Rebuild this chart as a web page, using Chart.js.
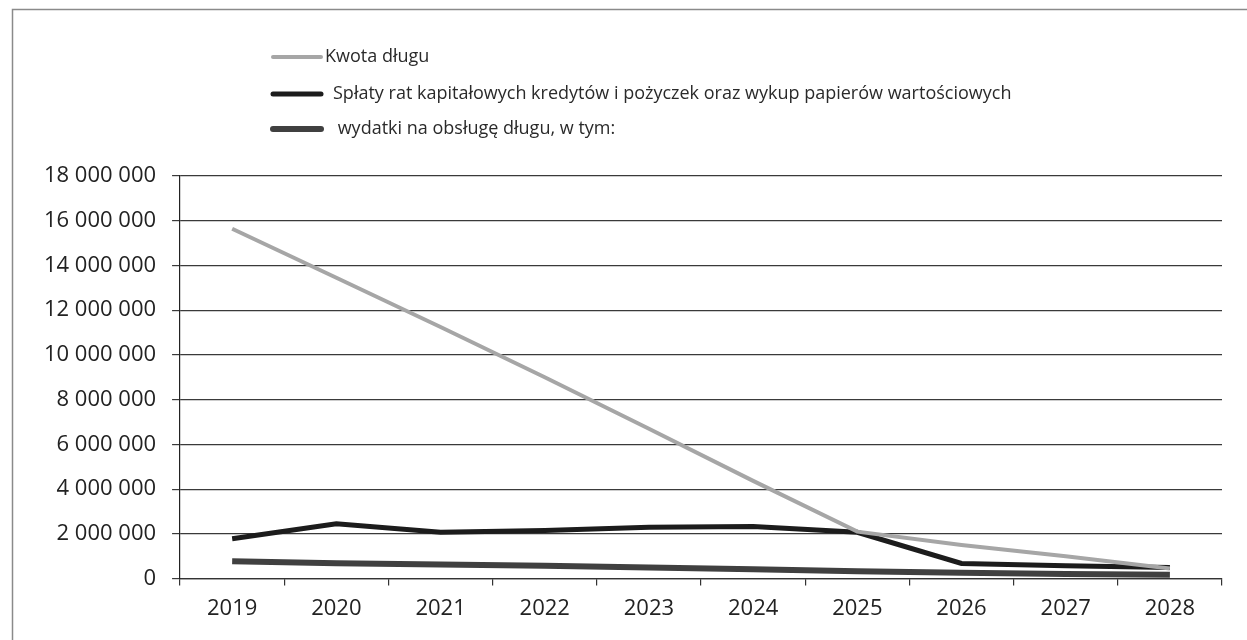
<!DOCTYPE html>
<html>
  <head>
    <title>Kwota długu</title>
    <style>
      body { margin: 0; background: #fff; }
      #wrap { width: 1247px; height: 640px; }
    </style>
  </head>
  <script src="https://cdn.jsdelivr.net/npm/chart.js@4/dist/chart.umd.min.js"></script>
  <body>
    <div id="wrap"><canvas id="myChart" width="1247" height="640"></canvas></div>

    <script>
      const years = ["2019", "2020", "2021", "2022", "2023", "2024", "2025", "2026", "2027", "2028"]
      const kwotaDlugu = [15640000, 13450000, 11250000, 9000000, 6700000, 4370000, 2100000, 1500000, 1000000, 450000]
      const splatyRat = [1780000, 2450000, 2070000, 2150000, 2300000, 2330000, 2070000, 680000, 580000, 500000]
      const wydatkiObsluga = [780000, 690000, 630000, 570000, 500000, 420000, 330000, 260000, 210000, 170000]
      const seriesNames = [
        "Kwota długu",
        "Spłaty rat kapitałowych kredytów i pożyczek oraz wykup papierów wartościowych",
        "wydatki na obsługę długu, w tym:"
      ]
      const yTicks = [0, 2000000, 4000000, 6000000, 8000000, 10000000, 12000000, 14000000, 16000000, 18000000]

      const fontName = "'Open Sans', sans-serif"

      function fmt(v){
        return v.toString().replace(/\B(?=(\d{3})+(?!\d))/g, " ")
      }

      // frame around the whole chart + stacked legend (top left)
      const framePlugin = {
        id: "frame",
        beforeDraw(chart){
          const ctx = chart.ctx
          ctx.save()
          ctx.fillStyle = "#fff"
          ctx.fillRect(0, 0, chart.width, chart.height)
          ctx.strokeStyle = "#8a8a8a"
          ctx.lineWidth = 1.5
          ctx.beginPath()
          ctx.moveTo(12.5, chart.height)
          ctx.lineTo(12.5, 9.5)
          ctx.lineTo(chart.width, 9.5)
          ctx.stroke()
          ctx.restore()
        },
        afterDraw(chart){
          const ctx = chart.ctx
          const rows = [57, 94, 129]
          const textX = [325, 333, 333]
          ctx.save()
          ctx.font = "18px " + fontName
          ctx.textBaseline = "middle"
          chart.data.datasets.forEach((ds, i) => {
            ctx.strokeStyle = ds.borderColor
            ctx.lineWidth = ds.borderWidth
            ctx.lineCap = "round"
            ctx.beginPath()
            ctx.moveTo(273, rows[i])
            ctx.lineTo(321, rows[i])
            ctx.stroke()
            ctx.fillStyle = "#2a2a2a"
            ctx.fillText((i === 2 ? " " : "") + ds.label, textX[i], rows[i])
          })
          ctx.restore()
        }
      }

      new Chart("myChart", {
        type: "line",
        data: {
          labels: years,
          datasets: [
            { label: seriesNames[0], data: kwotaDlugu, borderColor: "#a6a6a6", borderWidth: 4, pointRadius: 0, tension: 0 },
            { label: seriesNames[1], data: splatyRat, borderColor: "#1c1c1c", borderWidth: 5, pointRadius: 0, tension: 0 },
            { label: seriesNames[2], data: wydatkiObsluga, borderColor: "#404040", borderWidth: 6, pointRadius: 0, tension: 0 }
          ]
        },
        plugins: [framePlugin],
        options: {
          responsive: false,
          animation: false,
          layout: { padding: { left: 28, right: 25, top: 176, bottom: 8 } },
          plugins: {
            legend: { display: false },
            tooltip: { enabled: false }
          },
          scales: {
            x: {
              offset: true,
              grid: { offset: true, drawOnChartArea: false, color: "#333", tickLength: 7, lineWidth: 1.2 },
              border: { color: "#333", width: 1.2 },
              ticks: { color: "#222", font: { family: fontName, size: 22 }, padding: 10, maxRotation: 0 }
            },
            y: {
              min: 0,
              max: 18000000,
              afterBuildTicks(axis){ axis.ticks = yTicks.map(v => ({ value: v })) },
              grid: { color: "#3a3a3a", lineWidth: 1.2, tickLength: 8 },
              border: { color: "#222", width: 1.2 },
              ticks: { color: "#222", font: { family: fontName, size: 22 }, padding: 16, callback: (v) => fmt(v) }
            }
          }
        }
      })
    </script>
  </body>
</html>
